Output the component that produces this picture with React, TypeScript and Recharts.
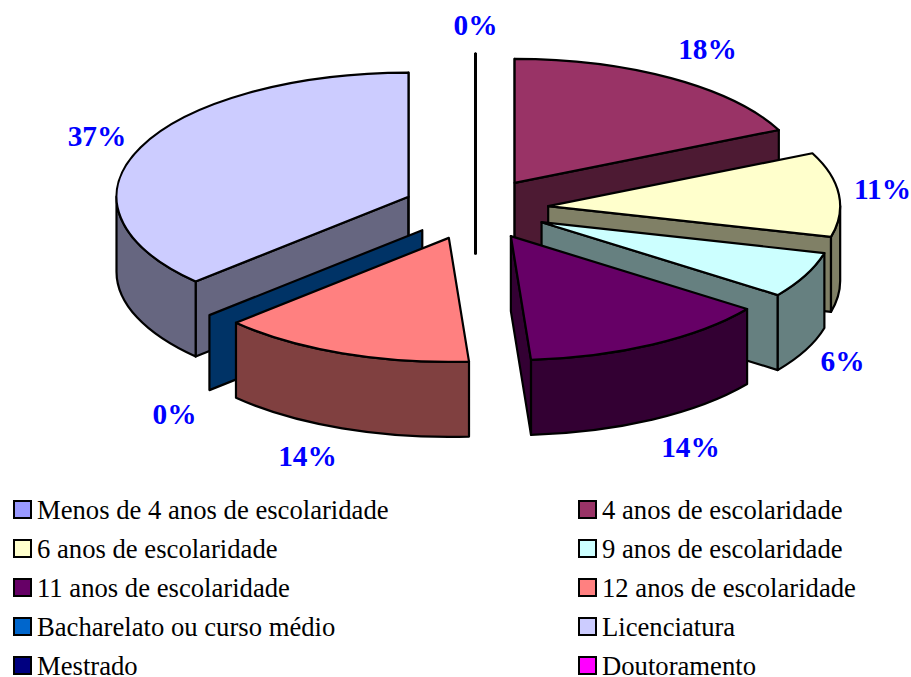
import { PieChart, Pie, Legend } from 'recharts';

// Données
const categories = [
  'Menos de 4 anos de escolaridade',
  '4 anos de escolaridade',
  '6 anos de escolaridade',
  '9 anos de escolaridade',
  '11 anos de escolaridade',
  '12 anos de escolaridade',
  'Bacharelato ou curso médio',
  'Licenciatura',
  'Mestrado',
  'Doutoramento',
];
const percents = [0, 18, 11, 6, 13.9, 14.1, 0, 37, 0, 0];
const colors = ['#9999FF', '#993366', '#FFFFCC', '#CCFFFF', '#660066', '#FF8080', '#0066CC', '#CCCCFF', '#000080', '#FF00FF'];
const wallColors = ['#4D4D80', '#4D1A33', '#808066', '#668080', '#330033', '#804040', '#003366', '#666680', '#000040', '#800080'];

// Réglages de dessin (pas des données)
const drawOrder = [7, 8, 9, 0, 1, 2, 3, 6, 5, 4]; // de l'arrière vers l'avant
const labelAnchors = [
  [475.5, 35], [707.5, 59], [882.5, 199], [842.5, 371], [690.5, 457],
  [307.5, 466], [174.5, 424], [97, 146],
];
const SQUASH = 124 / 292;
const DEPTH = 75;
const EXPLODE = 0.25;
const FONT = '"Liberation Serif", "Times New Roman", serif';

const rad = (deg: number) => (deg * Math.PI) / 180;

const Slice3D = (props: any) => {
  const { cx, cy, outerRadius, startAngle, endAngle, midAngle, index } = props;
  const rx = outerRadius;
  const ry = outerRadius * SQUASH;
  // angles comptés depuis midi, sens horaire
  const t0 = 90 - startAngle;
  const t1 = 90 - endAngle;
  const tm = 90 - midAngle;
  const ax = cx + EXPLODE * rx * Math.sin(rad(tm));
  const ay = cy - EXPLODE * ry * Math.cos(rad(tm));
  const pt = (t: number, d = 0) => [ax + rx * Math.sin(rad(t)), ay - ry * Math.cos(rad(t)) + d];
  const arc = (a: number, b: number, d = 0) => {
    const [x, y] = pt(b, d);
    return `A${rx} ${ry} 0 ${b - a > 180 ? 1 : 0} 1 ${x} ${y}`;
  };
  const edgeWall = (t: number) => {
    const [x, y] = pt(t);
    return `M${ax} ${ay}L${x} ${y}L${x} ${y + DEPTH}L${ax} ${ay + DEPTH}Z`;
  };
  const wall = wallColors[index];
  const line = { stroke: '#000', strokeWidth: 2.2, strokeLinejoin: 'round' as const };
  const showStart = Math.sin(rad(t0)) < 1e-6;
  const showEnd = Math.sin(rad(t1)) > -1e-6;
  const rimFrom = Math.max(t0, 90);
  const rimTo = Math.min(t1, 270);
  const [sx, sy] = pt(t0);
  const [rx0, ry0] = pt(rimFrom);
  const [rx1, ry1] = pt(rimTo);
  const isEmpty = t1 - t0 < 1e-6;
  return (
    <g>
      {showStart && <path d={edgeWall(t0)} fill={wall} {...line} strokeWidth={isEmpty && t0 % 360 === 0 ? 3 : 2.2} />}
      {showEnd && !isEmpty && <path d={edgeWall(t1)} fill={wall} {...line} />}
      {rimTo > rimFrom && (
        <path
          d={`M${rx0} ${ry0}${arc(rimFrom, rimTo)}L${rx1} ${ry1 + DEPTH}A${rx} ${ry} 0 0 0 ${rx0} ${ry0 + DEPTH}Z`}
          fill={wall}
          {...line}
        />
      )}
      {!isEmpty && (
        <path d={`M${ax} ${ay}L${sx} ${sy}${arc(t0, t1)}Z`} fill={colors[index]} {...line} />
      )}
    </g>
  );
};

const renderLabel = (props: any) => {
  const anchor = labelAnchors[props.index];
  if (!anchor) return null;
  return (
    <text
      x={anchor[0]}
      y={anchor[1]}
      textAnchor="middle"
      fill="#0000FF"
      fontFamily={FONT}
      fontSize={29.33}
      fontWeight={700}
    >
      {Math.round(percents[props.index])}%
    </text>
  );
};

const LegendGrid = () => (
  <div
    style={{
      display: 'grid',
      gridTemplateColumns: '565px 320px',
      gridAutoRows: '39px',
      fontFamily: FONT,
      fontSize: 26.67,
      lineHeight: '20px',
      color: '#000',
    }}
  >
    {categories.map((name, i) => (
      <div key={name} style={{ display: 'flex', alignItems: 'center', whiteSpace: 'nowrap' }}>
        <span
          style={{
            width: 15,
            height: 15,
            marginRight: 5,
            background: colors[i],
            border: '2px solid #000',
            boxSizing: 'content-box',
            flex: 'none',
          }}
        />
        {name}
      </div>
    ))}
  </div>
);

export default function App() {
  const data = categories.map((name, i) => ({ name, value: percents[i] }));
  const last = drawOrder[drawOrder.length - 1];
  return (
    <div style={{ position: 'absolute', left: 0, top: 0, width: 911, height: 677, background: '#fff' }}>
      <PieChart width={911} height={677} margin={{ top: 0, right: 0, bottom: 0, left: 0 }}>
        {drawOrder.map((idx) => (
          <Pie
            key={idx}
            data={data}
            dataKey="value"
            nameKey="name"
            cx={475.5}
            cy={209}
            innerRadius={0}
            outerRadius={292}
            startAngle={90}
            endAngle={-270}
            paddingAngle={0}
            stroke="none"
            isAnimationActive={false}
            labelLine={false}
            label={idx === last ? renderLabel : false}
            shape={(p: any) => (p.index === idx ? <Slice3D {...p} /> : <g />)}
          />
        ))}
        <Legend
          content={<LegendGrid />}
          wrapperStyle={{ position: 'absolute', left: 13, top: 490, width: 890, bottom: 'auto' }}
        />
      </PieChart>
    </div>
  );
}
